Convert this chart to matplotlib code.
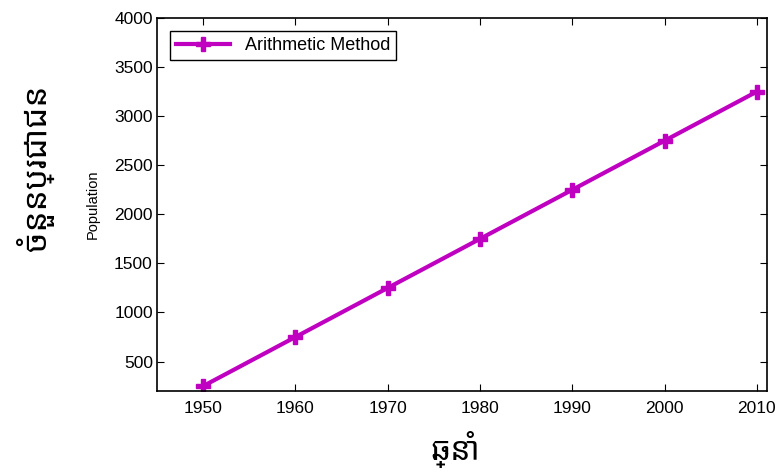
import matplotlib
matplotlib.use("Agg")
import matplotlib.pyplot as plt

# data
years = [1950, 1960, 1970, 1980, 1990, 2000, 2010]
population = [250, 750, 1250, 1750, 2250, 2750, 3250]
yticks = [500, 1000, 1500, 2000, 2500, 3000, 3500, 4000]

plt.rcParams['font.family'] = ['Liberation Sans', 'DejaVu Sans']
khmer = ['Noto Sans Khmer', 'Noto Serif Khmer', 'Battambang', 'DejaVu Sans']

fig = plt.figure(figsize=(7.78, 4.72), dpi=100)
ax = fig.add_axes([157 / 778, 1 - 391 / 472, 610 / 778, 373 / 472])

ax.plot(years, population, color='#c000c0', linewidth=3, marker='P',
        markersize=9.5, label='Arithmetic Method')

ax.set_xlim(1945, 2011.1)
ax.set_ylim(200, 4000)
ax.set_xticks(years)
ax.set_yticks(yticks)
ax.tick_params(direction='in', top=True, right=True, labelsize=12.5,
               length=5, width=0.8)
ax.tick_params(axis='x', pad=7)
ax.tick_params(axis='y', pad=3)
for s in ax.spines.values():
    s.set_linewidth(1.2)

ax.set_ylabel('Population', fontsize=10.5, labelpad=10)

leg = ax.legend(loc='upper left', fontsize=13, fancybox=False,
                edgecolor='black', framealpha=1, handlelength=3.0,
                borderaxespad=0.7, borderpad=0.35)
leg.get_frame().set_linewidth(1.0)

# Khmer labels
fig.text(35 / 778, 1 - 168 / 472, 'ចំនួនប្រជាជន', rotation=90,
         ha='center', va='center', fontsize=24, family=khmer)
fig.text(455 / 778, 1 - 450 / 472, 'ឆ្នាំ', ha='center', va='center',
         fontsize=23, family=khmer)

fig.savefig('out.png', dpi=100)
